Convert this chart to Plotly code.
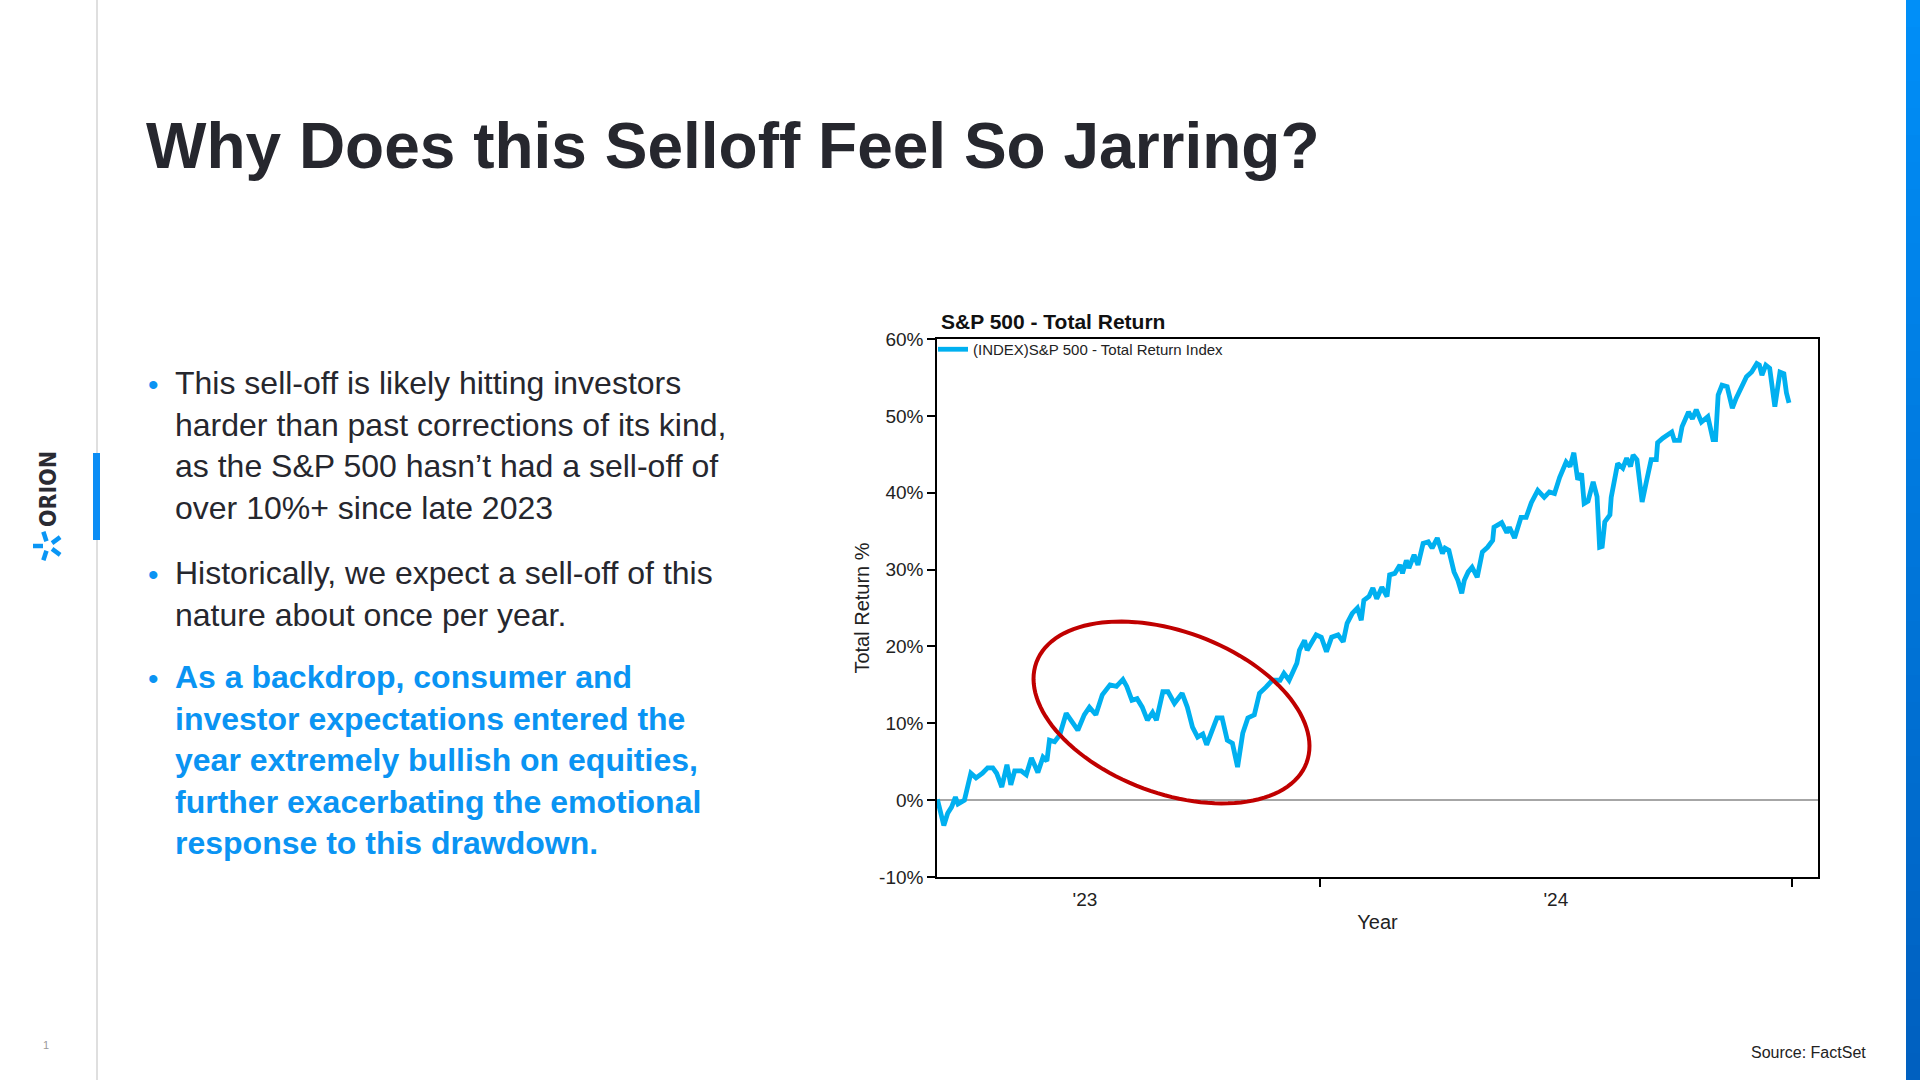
import numpy as np
import plotly.graph_objects as go

# ---------------- data ----------------
dates = [
    "2023-03-10", "2023-03-15", "2023-03-18", "2023-03-21", "2023-03-24", "2023-03-26", "2023-03-31",
    "2023-04-05", "2023-04-09", "2023-04-14", "2023-04-18", "2023-04-22", "2023-04-25", "2023-04-29",
    "2023-05-03", "2023-05-06", "2023-05-09", "2023-05-14", "2023-05-18", "2023-05-22", "2023-05-27",
    "2023-05-31", "2023-06-03", "2023-06-05", "2023-06-09", "2023-06-13", "2023-06-18", "2023-06-22",
    "2023-06-27", "2023-07-02", "2023-07-06", "2023-07-11", "2023-07-16", "2023-07-22", "2023-07-27",
    "2023-08-01", "2023-08-04", "2023-08-08", "2023-08-12", "2023-08-16", "2023-08-20", "2023-08-24",
    "2023-08-27", "2023-09-01", "2023-09-05", "2023-09-10", "2023-09-16", "2023-09-20", "2023-09-24",
    "2023-09-28", "2023-10-02", "2023-10-05", "2023-10-08", "2023-10-13", "2023-10-17", "2023-10-21",
    "2023-10-25", "2023-10-29", "2023-11-02", "2023-11-06", "2023-11-11", "2023-11-15", "2023-11-20",
    "2023-11-25", "2023-12-01", "2023-12-04", "2023-12-08", "2023-12-14", "2023-12-16", "2023-12-20",
    "2023-12-22", "2023-12-29", "2024-01-02", "2024-01-06", "2024-01-10", "2024-01-15", "2024-01-19",
    "2024-01-22", "2024-01-26", "2024-01-30", "2024-02-02", "2024-02-04", "2024-02-08", "2024-02-11",
    "2024-02-14", "2024-02-18", "2024-02-22", "2024-02-24", "2024-02-28", "2024-03-03", "2024-03-05",
    "2024-03-08", "2024-03-10", "2024-03-14", "2024-03-17", "2024-03-21", "2024-03-25", "2024-03-28",
    "2024-04-01", "2024-04-05", "2024-04-07", "2024-04-10", "2024-04-14", "2024-04-17", "2024-04-20",
    "2024-04-22", "2024-04-25", "2024-04-28", "2024-05-02", "2024-05-06", "2024-05-10", "2024-05-14",
    "2024-05-15", "2024-05-21", "2024-05-25", "2024-05-27", "2024-05-31", "2024-06-05", "2024-06-09",
    "2024-06-13", "2024-06-18", "2024-06-23", "2024-06-27", "2024-07-01", "2024-07-05", "2024-07-10",
    "2024-07-13", "2024-07-16", "2024-07-19", "2024-07-22", "2024-07-24", "2024-07-27", "2024-07-31",
    "2024-08-03", "2024-08-05", "2024-08-07", "2024-08-09", "2024-08-13", "2024-08-14", "2024-08-17",
    "2024-08-19", "2024-08-23", "2024-08-26", "2024-08-29", "2024-08-31", "2024-09-03", "2024-09-05",
    "2024-09-07", "2024-09-10", "2024-09-14", "2024-09-18", "2024-09-19", "2024-09-23", "2024-09-27",
    "2024-09-30", "2024-10-02", "2024-10-06", "2024-10-08", "2024-10-13", "2024-10-16", "2024-10-19",
    "2024-10-23", "2024-10-28", "2024-11-01", "2024-11-03", "2024-11-05", "2024-11-08", "2024-11-12",
    "2024-11-16", "2024-11-19", "2024-11-23", "2024-11-27", "2024-12-01", "2024-12-05", "2024-12-07",
    "2024-12-09", "2024-12-12", "2024-12-15", "2024-12-19", "2024-12-20", "2024-12-23", "2024-12-26",
    "2024-12-28", "2024-12-30",
]
total_return = [
    0.1, -3.3, -1.7, -0.9, 0.4, -0.5, 0.0,
    3.5, 2.9, 3.5, 4.2, 4.2, 3.5, 1.7,
    4.6, 2.0, 3.8, 3.8, 3.3, 5.5, 3.6,
    5.6, 5.1, 7.8, 7.6, 8.5, 11.3, 10.4,
    9.1, 11.1, 12.1, 11.1, 13.7, 15.0, 14.8,
    15.7, 14.8, 13.0, 13.2, 12.1, 10.4, 11.4,
    10.4, 14.1, 14.1, 12.6, 13.9, 12.1, 9.5,
    8.2, 8.6, 7.2, 8.5, 10.7, 10.7, 7.8,
    7.4, 4.3, 8.7, 10.7, 11.1, 13.9, 14.7,
    15.6, 15.6, 16.5, 15.6, 17.8, 19.5, 20.8,
    19.5, 21.5, 21.2, 19.3, 21.2, 21.5, 20.6,
    23.0, 24.3, 25.0, 23.4, 26.0, 26.5, 27.6,
    26.2, 27.7, 26.5, 29.3, 29.5, 30.6, 29.5,
    31.2, 30.2, 31.9, 30.6, 33.4, 33.6, 32.8,
    34.1, 32.1, 32.8, 32.5, 29.7, 28.6, 26.9,
    28.6, 29.7, 30.3, 29.0, 32.3, 32.9, 33.8,
    35.5, 36.1, 34.8, 35.5, 34.1, 36.8, 36.8,
    38.7, 40.3, 39.4, 40.1, 39.9, 42.0, 44.0,
    43.4, 45.2, 41.7, 42.5, 38.6, 38.9, 41.4,
    39.5, 32.9, 33.0, 36.2, 37.1, 39.4, 42.3,
    43.8, 43.2, 44.5, 43.4, 44.9, 44.3, 41.7,
    38.8, 41.2, 44.3, 44.3, 46.5, 47.1, 47.5,
    47.9, 46.8, 46.8, 48.6, 50.5, 49.6, 50.8,
    49.2, 49.9, 46.9, 46.9, 52.7, 54.0, 53.8,
    51.0, 52.3, 53.8, 55.1, 55.7, 56.8, 56.6,
    55.3, 56.6, 56.2, 51.2, 52.5, 55.7, 55.5,
    53.0, 51.7,
]
y_ticks = [-10, 0, 10, 20, 30, 40, 50, 60]
y_tick_labels = ["-10%", "0%", "10%", "20%", "30%", "40%", "50%", "60%"]
x_range = ["2023-03-09 17:00", "2025-01-21 12:00"]

series_name = "(INDEX)S&P 500 - Total Return Index"
chart_title = "S&P 500 - Total Return"
slide_title = "Why Does this Selloff Feel So Jarring?"
bullet_1 = ("This sell-off is likely hitting investors<br>harder than past corrections of its kind,<br>"
            "as the S&P 500 hasn’t had a sell-off of<br>over 10%+ since late 2023")
bullet_2 = "Historically, we expect a sell-off of this<br>nature about once per year."
bullet_3 = ("<b>As a backdrop, consumer and<br>investor expectations entered the<br>"
            "year extremely bullish on equities,<br>further exacerbating the emotional<br>"
            "response to this drawdown.</b>")

# ---------------- helpers ----------------
W, H = 1920, 1080
FONT = "Liberation Sans, Arial, Helvetica, sans-serif"
DARK = "#26272E"
BLUE = "#0A94F3"


def px(x):
    return x / W


def py(y):
    return 1 - y / H


fig = go.Figure()
fig.add_trace(go.Scatter(
    x=dates, y=total_return, mode="lines", name=series_name,
    line=dict(color="#00B0F0", width=4.8), showlegend=True,
))

annotations = []
shapes = []

# slide title
annotations.append(dict(text=slide_title, x=px(144), y=py(108), xref="paper", yref="paper",
                        xanchor="left", yanchor="top", showarrow=False,
                        font=dict(family=FONT, size=64, color=DARK, weight="bold")))

# bullets
for txt, ytop, col in [(bullet_1, 363, DARK), (bullet_2, 553, DARK), (bullet_3, 657, BLUE)]:
    annotations.append(dict(text=txt, x=px(173), y=py(ytop), xref="paper", yref="paper",
                            xanchor="left", yanchor="top", align="left", showarrow=False,
                            font=dict(family=FONT, size=32, color=col)))
for yb in [384, 574, 678]:
    annotations.append(dict(text="•", x=px(153), y=py(yb), xref="paper", yref="paper",
                            xanchor="center", yanchor="middle", showarrow=False,
                            font=dict(family=FONT, size=30, color=BLUE)))

# source, page number
annotations.append(dict(text="Source: FactSet", x=px(1868), y=py(1052), xref="paper", yref="paper",
                        xanchor="right", yanchor="middle", showarrow=False,
                        font=dict(family=FONT, size=16, color="#222222")))
annotations.append(dict(text="1", x=px(46), y=py(1045), xref="paper", yref="paper",
                        xanchor="center", yanchor="middle", showarrow=False,
                        font=dict(family=FONT, size=11, color="#9A9A9A")))

# ORION logo text (rotated)
annotations.append(dict(text="ORION", x=px(48), y=py(489), xref="paper", yref="paper",
                        xanchor="center", yanchor="middle", showarrow=False, textangle=-90,
                        font=dict(family="Liberation Sans Narrow, DejaVu Sans Condensed, " + FONT,
                                  size=23, color="#2A2B33", weight="bold")))

# logo asterisk (5 rays)
cx, cy = 48, 546
for ang in [180, 108, 36, -36, -108]:
    a = np.deg2rad(ang)
    r0, r1 = 5, 15
    shapes.append(dict(type="line", xref="paper", yref="paper",
                       x0=px(cx + r0 * np.cos(a)), y0=py(cy - r0 * np.sin(a)),
                       x1=px(cx + r1 * np.cos(a)), y1=py(cy - r1 * np.sin(a)),
                       line=dict(color="#0A96F5", width=4.5)))

# left divider line and accent bar
shapes.append(dict(type="line", xref="paper", yref="paper", x0=px(97), x1=px(97), y0=0, y1=1,
                   line=dict(color="#D4D4D4", width=1.5)))
shapes.append(dict(type="rect", xref="paper", yref="paper", x0=px(93), x1=px(100),
                   y0=py(540), y1=py(453), line=dict(width=0), fillcolor="#0B8DF5"))

# right gradient bar
N = 40
top_c = np.array([0, 143, 248])
bot_c = np.array([0, 96, 192])
for i in range(N):
    t = i / (N - 1)
    c = (top_c * (1 - t) + bot_c * t).astype(int)
    shapes.append(dict(type="rect", xref="paper", yref="paper", x0=px(1906), x1=1.0,
                       y0=py(H * (i + 1) / N) - 0.0005, y1=py(H * i / N),
                       line=dict(width=0), fillcolor=f"rgb({c[0]},{c[1]},{c[2]})"))

# red ellipse highlight (rotated)
ecx, ecy, ea, eb, th = 1171.5, 712.5, 144.1, 80.9, np.deg2rad(20.4)
t = np.linspace(0, 2 * np.pi, 121)
ex = ecx + ea * np.cos(t) * np.cos(th) - eb * np.sin(t) * np.sin(th)
ey = ecy + ea * np.cos(t) * np.sin(th) + eb * np.sin(t) * np.cos(th)
path = "M " + " L ".join(f"{px(a):.5f},{py(b):.5f}" for a, b in zip(ex, ey)) + " Z"
shapes.append(dict(type="path", path=path, xref="paper", yref="paper",
                   line=dict(color="#C00000", width=4)))

tickfont = dict(family=FONT, size=19, color="#222222")
fig.update_layout(
    template="none",
    width=W, height=H,
    margin=dict(l=0, r=0, t=0, b=0),
    paper_bgcolor="white", plot_bgcolor="white",
    showlegend=True,
    title=dict(text=f"<b>{chart_title}</b>", x=px(941), y=py(322), xref="paper", yref="paper",
               xanchor="left", yanchor="middle",
               font=dict(family=FONT, size=21, color="#111111")),
    legend=dict(x=px(933), y=py(333), xanchor="left", yanchor="top", bgcolor="rgba(0,0,0,0)",
                font=dict(family=FONT, size=15, color="#222222"), borderwidth=0),
    xaxis=dict(domain=[px(937), px(1818)], type="date", range=x_range,
               showline=True, linecolor="#000000", linewidth=1.5, mirror=True,
               ticks="outside", ticklen=8, tickwidth=1.5, tickcolor="#000000",
               dtick="M12", tick0="2023-01-01", tickformat="'%y", ticklabelmode="period",
               ticklabelstandoff=-4,
               showgrid=False, zeroline=False, tickfont=tickfont,
               title=dict(text="Year", font=dict(family=FONT, size=20, color="#222222"), standoff=6)),
    yaxis=dict(domain=[py(877), py(339)], range=[-10, 60], tickmode="array",
               tickvals=y_ticks, ticktext=y_tick_labels,
               showline=True, linecolor="#000000", linewidth=1.5, mirror=True,
               ticks="outside", ticklen=8, tickwidth=1.5, tickcolor="#000000",
               showgrid=False, zeroline=True, zerolinecolor="#A6A6A6", zerolinewidth=1.5,
               tickfont=tickfont,
               title=dict(text="Total Return %", font=dict(family=FONT, size=20, color="#222222"),
                          standoff=4)),
    annotations=annotations,
    shapes=shapes,
)

fig.write_html("out.html", config={"displayModeBar": False},
               post_script="document.body.style.margin='0';document.body.style.overflow='hidden';")
